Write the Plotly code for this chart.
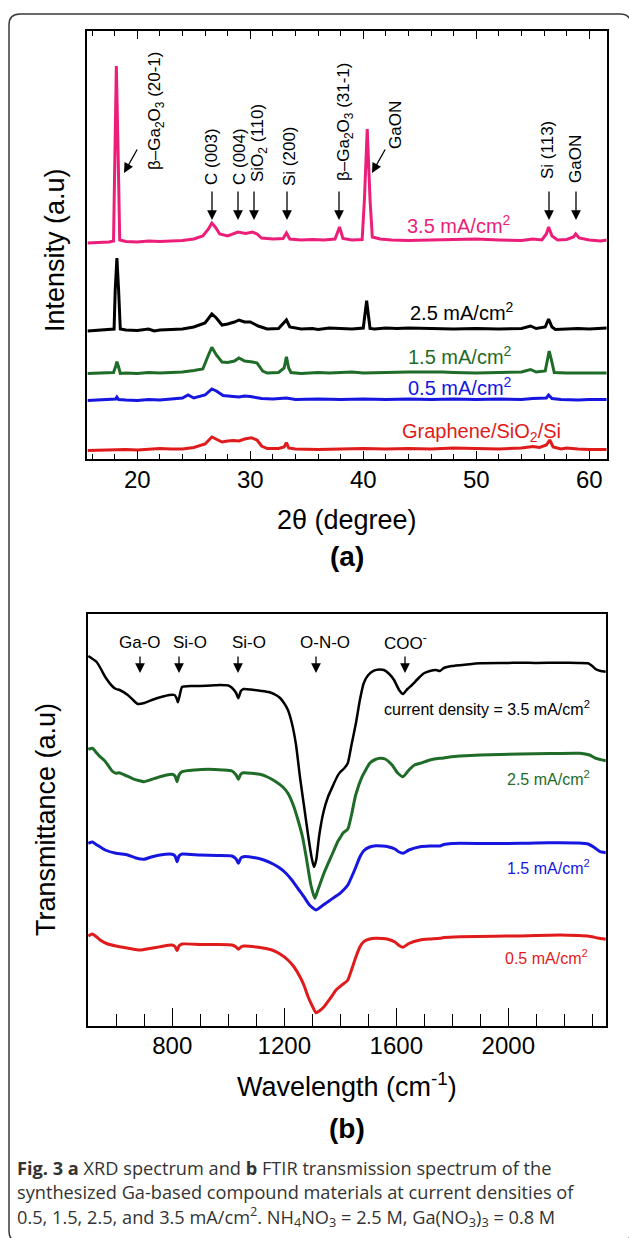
import plotly.graph_objects as go

W, H = 629, 1238

def px(x):
    return x / W

def py(y):
    return 1 - y / H

# ---------------- XRD data (2theta in degree, intensity a.u.) ----------------
xrd35_x = [15.6, 16.5, 17.5, 17.9, 18.05, 18.15, 18.3, 18.45, 19, 20, 21, 22, 23, 24, 25, 25.8, 26.3, 26.6, 26.9, 27.3,
           28, 28.9, 29.6, 30.2, 30.6, 31, 32, 32.9, 33.2, 33.5, 34.5, 35.5, 36.5, 37.5, 37.9, 38.2, 39, 39.9, 40.1,
           40.35, 40.6, 40.8, 41.5, 42.5, 44, 46, 48, 49, 50, 52, 54, 55, 55.8, 56.2, 56.4, 56.7, 57.2, 58, 58.6, 58.8,
           59.1, 60, 61, 61.55]
xrd35_y = [216.3, 216.8, 217.3, 218.3, 309.3, 393.3, 309.3, 219.3, 217.8, 217.3, 218.3, 217.8, 218.3, 218.8, 220.3,
           223.3, 230.3, 236.3, 232.3, 225.3, 223.3, 227.3, 225.8, 227.3, 225.3, 221.3, 220.3, 220.8, 226.3, 220.3,
           219.3, 219.8, 219.3, 220.3, 232.3, 220.8, 219.3, 219.8, 259.3, 330.3, 259.3, 222.3, 220.3, 219.3, 218.8,
           219.3, 219.8, 219.3, 220.3, 219.3, 218.8, 220.3, 219.3, 225.3, 232.3, 223.3, 219.3, 219.8, 222.3, 225.3,
           221.3, 219.3, 218.3, 219.3]

xrd25_x = [15.6, 16.5, 17.5, 17.95, 18.05, 18.2, 18.35, 18.5, 19, 20, 21, 21.5, 22, 23, 24, 25, 26, 26.6, 27, 27.5,
           28, 28.6, 29, 29.5, 30, 30.7, 31.5, 32.5, 33.2, 33.5, 34.5, 35.5, 36, 37, 38, 39, 40, 40.15, 40.3, 40.45,
           40.6, 41, 42, 43, 44, 46, 48, 50, 52, 54, 54.8, 55.3, 56.1, 56.4, 56.7, 57, 58, 59, 60, 61, 61.55]
xrd25_y = [128.3, 128.8, 129.3, 130.3, 169.3, 201.3, 169.3, 130.3, 129.3, 128.8, 130.3, 128.3, 129.3, 129.8, 130.3,
           132.3, 136.3, 145.3, 141.3, 134.3, 135.3, 137.3, 139.3, 137.3, 137.3, 133.3, 130.3, 130.8, 139.3, 132.3,
           130.3, 130.8, 129.8, 131.3, 130.8, 130.3, 131.3, 144.3, 158.6, 144.3, 130.8, 130.3, 131.3, 130.8, 131.3,
           130.8, 130.3, 130.8, 130.3, 130.8, 133.3, 130.8, 132.3, 140.3, 132.3, 129.8, 130.3, 130.8, 130.3, 131.3,
           131.3]

xrd15_x = [15.6, 17, 17.9, 18.1, 18.2, 18.35, 18.5, 19, 20, 21, 22, 23, 24, 25, 25.8, 26.3, 26.6, 27, 27.5, 28,
           28.6, 29, 29.5, 30.2, 30.6, 31.1, 31.5, 32.5, 33.0, 33.2, 33.4, 33.6, 34.5, 36, 37, 38, 39, 40, 41, 42, 44,
           46, 47, 48, 50, 52, 54, 54.8, 55.3, 56.1, 56.3, 56.45, 56.65, 56.9, 58, 59, 60, 61.55]
xrd15_y = [85.8, 86.3, 86.8, 93.3, 97.6, 92.3, 85.8, 86.3, 85.8, 86.8, 86.3, 86.8, 87.3, 88.8, 90.3, 104.3, 112.0,
           104.3, 97.3, 96.8, 98.3, 101.3, 98.3, 97.3, 96.3, 88.3, 86.3, 86.8, 91.3, 102.6, 91.3, 86.8, 85.8, 86.8,
           86.3, 86.8, 87.3, 86.3, 86.8, 86.8, 87.3, 87.8, 87.3, 86.8, 86.3, 86.8, 87.3, 89.8, 87.3, 88.3, 101.3,
           108.3, 99.3, 86.8, 86.3, 86.3, 85.8, 86.3]

xrd05_x = [15.6, 17, 18.1, 18.2, 18.35, 19, 20, 21, 22, 23, 24, 24.5, 25, 26, 26.6, 27, 27.6, 28.5, 29, 29.5, 30,
           31, 32, 33.2, 34, 36, 38, 40, 42, 44, 46, 48, 50, 52, 54, 55, 56.2, 56.4, 56.7, 57.5, 59, 60, 61.55]
xrd05_y = [58.8, 59.3, 60.3, 62.3, 59.8, 59.3, 58.8, 59.8, 59.3, 60.3, 61.3, 64.3, 61.3, 64.3, 70.3, 68.3, 63.8,
           62.8, 62.3, 63.3, 62.8, 60.8, 60.3, 61.3, 59.8, 60.3, 59.8, 60.3, 59.8, 60.3, 59.8, 60.3, 59.8, 60.3,
           59.8, 60.8, 61.3, 64.3, 60.8, 59.8, 59.3, 59.8, 59.8]

xrdgr_x = [15.6, 17, 18, 19, 20, 21, 22, 23, 24, 25, 26, 26.6, 27, 27.5, 28, 28.5, 29, 29.5, 30.1, 30.6, 31, 31.5,
           32.5, 33.0, 33.2, 33.4, 34, 36, 38, 40, 42, 44, 46, 48, 50, 52, 54, 55, 55.6, 56.2, 56.5, 56.8, 57.5, 58,
           59, 60, 61.55]
xrdgr_y = [8.8, 9.3, 9.3, 9.8, 9.3, 9.8, 10.8, 10.3, 10.3, 11.8, 15.3, 22.3, 19.8, 17.3, 18.3, 18.8, 18.3, 20.3,
           21.6, 19.3, 13.3, 10.8, 10.8, 12.3, 16.6, 11.3, 10.3, 9.8, 10.3, 10.8, 10.3, 10.8, 10.3, 11.3, 10.8, 10.3,
           11.3, 12.8, 11.8, 14.3, 19.3, 12.3, 10.3, 11.3, 10.3, 9.8, 9.8]

# ---------------- FTIR data (wavenumber cm-1, transmittance a.u.) ----------------
ft35_x = [500, 530, 563, 585, 599, 612, 641, 660, 677, 700, 727, 760, 790, 808, 815, 820, 826, 835, 870, 899, 940,
          970, 1000, 1013, 1028, 1036, 1045, 1055, 1080, 1113, 1145, 1170, 1185, 1199, 1213, 1227, 1242, 1256, 1270,
          1285, 1298, 1306, 1314, 1325, 1340, 1356, 1375, 1390, 1400, 1415, 1427, 1440, 1456, 1470, 1484, 1500,
          1520, 1540, 1556, 1575, 1592, 1610, 1624, 1640, 1656, 1680, 1699, 1720, 1742, 1756, 1770, 1799, 1850,
          1899, 2000, 2042, 2100, 2185, 2250, 2285, 2300, 2313, 2330, 2348]
ft35_y = [370, 364, 348, 340, 337, 336, 331, 326, 322, 323, 326, 329, 331, 331, 328, 323.7, 330, 339, 340, 340,
          340.5, 341, 340.5, 338.3, 333, 327.7, 335, 337, 336.5, 335.3, 334, 331, 328, 323, 316, 303, 281, 249, 221,
          191, 168, 159, 166, 191, 214, 229, 241, 250, 254, 258, 263, 281, 303, 326, 343, 351, 355.3, 356.5, 356,
          352, 346, 336, 332, 337, 341, 348, 352.7, 355, 356, 355, 358, 360, 361.5, 362.7, 363, 363.3, 363, 363.3,
          363, 362.7, 360, 356.7, 355, 354.3]

ft25_x = [500, 515, 530, 542, 556, 570, 585, 599, 610, 630, 656, 680, 699, 720, 756, 780, 799, 810, 817, 824, 835,
          880, 928, 980, 1013, 1028, 1036, 1045, 1055, 1113, 1140, 1170, 1195, 1213, 1232, 1249, 1266, 1280, 1295,
          1309, 1320, 1342, 1370, 1392, 1399, 1410, 1427, 1440, 1455, 1478, 1506, 1525, 1542, 1560, 1585, 1605,
          1624, 1645, 1665, 1685, 1720, 1756, 1770, 1790, 1828, 1900, 2042, 2150, 2256, 2290, 2313, 2348]
ft25_y = [276.7, 277.7, 273, 269.3, 266, 261, 255, 252.7, 253.3, 251, 247.7, 245.5, 244.3, 246, 249.3, 251, 251.7,
          250, 244.3, 251, 254.3, 256, 256.7, 256, 255, 251, 246.7, 252, 253.3, 251.7, 249, 244.3, 239, 232.7, 221,
          206, 188, 166, 141, 127.7, 136, 153, 171, 185, 188, 193, 197, 211, 231, 249.3, 263, 266.5, 267.7, 267,
          261, 253, 249.3, 256, 261, 262.7, 266, 267.7, 268, 269, 270, 271, 272, 272.5, 272.7, 271, 267.7, 265.3]

ft15_x = [500, 515, 531, 560, 599, 620, 641, 670, 699, 725, 756, 799, 810, 817, 824, 835, 899, 960, 1013, 1028,
          1036, 1045, 1055, 1090, 1127, 1160, 1185, 1205, 1227, 1250, 1270, 1290, 1313, 1330, 1356, 1380, 1399,
          1415, 1427, 1442, 1456, 1470, 1484, 1505, 1527, 1550, 1570, 1595, 1610, 1624, 1645, 1685, 1720, 1756,
          1770, 1800, 1828, 1950, 2042, 2100, 2185, 2250, 2285, 2310, 2328, 2348]
ft15_y = [182.7, 184, 181, 176, 172.7, 172, 171, 168, 166.7, 169, 171, 171.7, 170, 164.3, 170, 172, 171, 170.5,
          170, 167, 162.7, 168, 169.3, 168.5, 166, 162, 157.7, 153, 146, 137, 129.3, 121, 116, 119, 124.3, 129,
          132.7, 137, 141, 150, 159.3, 169, 175.3, 179, 180.3, 180, 179.3, 177, 174, 172.7, 176, 179.3, 180, 180,
          181.5, 182.5, 182.7, 182.5, 182.7, 183, 183.3, 183, 182, 178, 174.3, 173.3]

ft05_x = [500, 514, 530, 542, 570, 599, 640, 685, 720, 756, 799, 810, 817, 824, 835, 900, 960, 1013, 1028, 1036,
          1045, 1055, 1100, 1156, 1185, 1213, 1235, 1256, 1270, 1285, 1300, 1313, 1325, 1342, 1365, 1385, 1406,
          1420, 1427, 1440, 1456, 1470, 1484, 1505, 1527, 1550, 1570, 1595, 1610, 1624, 1645, 1685, 1720, 1756,
          1770, 1828, 1950, 2042, 2100, 2185, 2250, 2285, 2320, 2348]
ft05_y = [90, 92, 89, 86, 82, 80, 78, 76, 77.5, 79.3, 81, 79.5, 75.3, 80, 82, 81.5, 81.5, 81, 79, 76.7, 79, 80, 79,
          76, 72, 66, 59, 49.3, 41, 29.3, 20, 13.3, 15, 19.3, 28, 36, 41, 44, 46, 56, 69.3, 79, 84.3, 87, 87.7,
          87.5, 86.7, 84, 80.5, 78.7, 82.5, 86, 87, 87.7, 88.5, 89.3, 89.8, 90, 90.5, 91, 90.5, 90, 88, 86.7]

xrd_ticks = [20, 30, 40, 50, 60]
xrd_minor = list(range(16, 62, 2))
ft_ticks = [800, 1200, 1600, 2000]
ft_minor = list(range(600, 2400, 100))

PINK = "#EC1E79"
GREEN = "#1F6B28"
BLUE = "#1616E0"
RED = "#E01B1B"
FONT = "Liberation Sans, Arial, sans-serif"

fig = go.Figure()
for xs, ys, c in [(xrdgr_x, xrdgr_y, RED), (xrd05_x, xrd05_y, BLUE), (xrd15_x, xrd15_y, GREEN),
                  (xrd25_x, xrd25_y, "black"), (xrd35_x, xrd35_y, PINK)]:
    fig.add_trace(go.Scatter(x=xs, y=ys, mode="lines", line=dict(color=c, width=3),
                             xaxis="x", yaxis="y", showlegend=False, hoverinfo="skip"))
for xs, ys, c, w in [(ft05_x, ft05_y, RED, 3), (ft15_x, ft15_y, BLUE, 3), (ft25_x, ft25_y, GREEN, 3),
                     (ft35_x, ft35_y, "black", 2.5)]:
    fig.add_trace(go.Scatter(x=xs, y=ys, mode="lines", line=dict(color=c, width=w, shape="spline", smoothing=0.5),
                             xaxis="x2", yaxis="y2", showlegend=False, hoverinfo="skip"))

axis_common = dict(showgrid=False, zeroline=False, showline=True, linecolor="black", linewidth=1.5,
                   automargin=False)
fig.update_layout(
    width=W, height=H, autosize=False,
    margin=dict(l=0, r=0, t=0, b=0),
    paper_bgcolor="white", plot_bgcolor="white",
    font=dict(family=FONT, color="black"),
    xaxis=dict(domain=[px(87.3), px(606.7)], range=[15.58, 61.54], anchor="y", mirror="ticks",
               tickmode="array", tickvals=xrd_ticks, ticks="inside", ticklen=9, tickwidth=1.3,
               tickcolor="black", tickfont=dict(size=24, family=FONT), ticklabelstandoff=-2,
               minor=dict(tickmode="array", tickvals=xrd_minor, ticks="inside", ticklen=6, tickwidth=1.2,
                          tickcolor="black"),
               **axis_common),
    yaxis=dict(domain=[py(459.3), py(30.7)], range=[0, 428.6], anchor="x", mirror=True,
               showticklabels=False, ticks="", **axis_common),
    xaxis2=dict(domain=[px(88), px(606)], range=[499, 2349], anchor="y2", mirror=True,
                tickmode="array", tickvals=ft_ticks, ticks="inside", ticklen=18, tickwidth=1.3,
                tickcolor="black", tickfont=dict(size=24, family=FONT), ticklabelstandoff=-3,
                minor=dict(tickmode="array", tickvals=ft_minor, ticks="inside", ticklen=12, tickwidth=1.2,
                           tickcolor="black"),
                **axis_common),
    yaxis2=dict(domain=[py(1026), py(614)], range=[0, 412], anchor="x2", mirror=True,
                showticklabels=False, ticks="", **axis_common),
)

ann = []

def text(x, y, t, size, color="black", angle=0, xanchor="center", family=FONT):
    ann.append(dict(x=px(x), y=py(y), xref="paper", yref="paper", text=t, showarrow=False,
                    textangle=angle, xanchor=xanchor, yanchor="middle",
                    font=dict(size=size, color=color, family=family)))

def arrow(x, y, ax, ay):
    ann.append(dict(x=px(x), y=py(y), xref="paper", yref="paper", text="", showarrow=True,
                    ax=ax, ay=ay, arrowhead=2, arrowsize=1.5, arrowwidth=1.3, arrowcolor="black"))

# top panel peak labels
text(156, 111, "β–Ga<sub>2</sub>O<sub>3</sub> (20-1)", 17, angle=-90)
arrow(124, 173, 14, -25)
text(211, 157, "C (003)", 17, angle=-90)
arrow(212, 220, 0, -30)
text(239, 157, "C (004)", 17, angle=-90)
arrow(238, 220, 0, -30)
text(259, 143, "SiO<sub>2</sub> (110)", 17, angle=-90)
arrow(254, 220, 0, -30)
text(290, 156, "Si (200)", 17, angle=-90)
arrow(287, 220, 0, -30)
text(345, 122, "β–Ga<sub>2</sub>O<sub>3</sub> (31-1)", 17, angle=-90)
arrow(339, 220, 0, -30)
text(396, 125, "GaON", 17, angle=-90)
arrow(372, 173, 14, -25)
text(547, 150, "Si (113)", 17, angle=-90)
arrow(549, 220, 0, -30)
text(576, 159, "GaON", 17, angle=-90)
arrow(576, 220, 0, -30)

# top panel series labels
text(459, 225, "3.5 mA/cm<sup>2</sup>", 20, PINK)
text(462, 312, "2.5 mA/cm<sup>2</sup>", 20, "black")
text(460, 355, "1.5 mA/cm<sup>2</sup>", 20, GREEN)
text(460, 387, "0.5 mA/cm<sup>2</sup>", 20, BLUE)
text(482, 432, "Graphene/SiO<sub>2</sub>/Si", 20, RED)

# top axis titles
text(55, 250, "Intensity (a.u)", 27, angle=-90)
text(347, 520, "2θ (degree)", 27)
text(347, 556, "<b>(a)</b>", 28)

# bottom panel labels
for tx, t, axx in [(140, "Ga-O", 140), (190, "Si-O", 179), (249, "Si-O", 238), (325, "O-N-O", 316),
                   (405, "COO<sup>-</sup>", 405)]:
    text(tx, 642, t, 17)
    arrow(axx, 673, 0, -18)

text(592, 708, "current density = 3.5 mA/cm<sup>2</sup>", 16, "black", xanchor="right")
text(592, 778, "2.5 mA/cm<sup>2</sup>", 16, GREEN, xanchor="right")
text(592, 867, "1.5 mA/cm<sup>2</sup>", 16, BLUE, xanchor="right")
text(590, 957, "0.5 mA/cm<sup>2</sup>", 16, RED, xanchor="right")

text(46, 820, "Transmittance (a.u)", 27, angle=-90)
text(347, 1085, "Wavelength (cm<sup>-1</sup>)", 27)
text(347, 1128, "<b>(b)</b>", 28)

# caption
CAP = "Open Sans, sans-serif"
cap_lines = [
    "<b>Fig. 3</b> <b>a</b> XRD spectrum and <b>b</b> FTIR transmission spectrum of the",
    "synthesized Ga-based compound materials at current densities of",
    "0.5, 1.5, 2.5, and 3.5 mA/cm<sup>2</sup>. NH<sub>4</sub>NO<sub>3</sub> = 2.5 M, Ga(NO<sub>3</sub>)<sub>3</sub> = 0.8 M",
]
for i, line in enumerate(cap_lines):
    text(15, 1168 + 24 * i, line, 18.2, "#333333", xanchor="left", family=CAP)

fig.update_layout(annotations=ann)

# rounded frame
L, T, R, B, r = 9, 14, 631, 1242, 11
path = (f"M {px(L)},{py(T + r)} Q {px(L)},{py(T)} {px(L + r)},{py(T)} "
        f"L {px(R - r)},{py(T)} Q {px(R)},{py(T)} {px(R)},{py(T + r)} "
        f"L {px(R)},{py(B - r)} Q {px(R)},{py(B)} {px(R - r)},{py(B)} "
        f"L {px(L + r)},{py(B)} Q {px(L)},{py(B)} {px(L)},{py(B - r)} Z")
fig.add_shape(type="path", path=path, xref="paper", yref="paper", line=dict(color="#3a3a3a", width=1.5))

fig.write_html("out.html", config={"displayModeBar": False},
               post_script="document.body.style.margin='0';document.body.style.overflow='hidden';")
